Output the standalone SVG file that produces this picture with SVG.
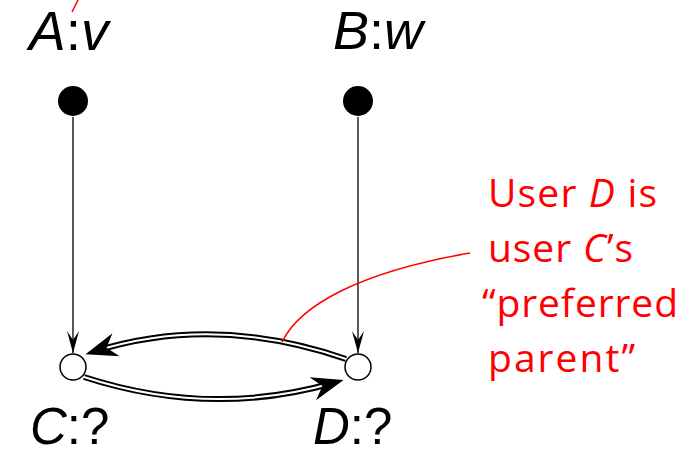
<svg xmlns="http://www.w3.org/2000/svg" width="689" height="455" viewBox="0 0 689 455">
  <style>
    .lbl { font-family: "Liberation Sans", Arial, sans-serif; fill: #000; }
    .it { font-style: italic; }
    .note { font-family: "Open Sans", "Liberation Sans", sans-serif; font-size: 39px; fill: #ff0000; }
    .src { fill: #000; }
    .dst { fill: #fff; stroke: #000; stroke-width: 1.5; }
    .thin { fill: none; stroke: #000; stroke-width: 1.3; marker-end: url(#dart); }
    .outer { fill: none; stroke: #000; stroke-width: 6; }
    .inner { fill: none; stroke: #fff; stroke-width: 2; marker-end: url(#bigdart); }
    .callout { fill: none; stroke: #ff0000; stroke-width: 1.5; }
  </style>
  <defs>
    <marker id="dart" markerUnits="userSpaceOnUse" markerWidth="24" markerHeight="14" viewBox="0 -7 24 14" refX="22" refY="0" orient="auto">
      <path d="M22 0 L0 -6 L9 0 L0 6 Z" fill="#000"/>
    </marker>
    <marker id="bigdart" markerUnits="userSpaceOnUse" markerWidth="34" markerHeight="26" viewBox="0 -13 34 26" refX="21" refY="0" orient="auto">
      <path d="M32 0 L0 -12 L10 0 L0 12 Z" fill="#000"/>
    </marker>
  </defs>

  <!-- connectors -->
  <g id="connectors">
    <path class="thin" d="M73 117 L73 353"/>
    <path class="thin" d="M358 117 L358 353"/>
    <!-- D back to C (upper) -->
    <path class="outer" d="M346 359 Q 215 314 96 351"/>
    <path class="inner" d="M346 359 Q 215 314 96 351"/>
    <!-- C to D (lower) -->
    <path class="outer" d="M84 377 Q 210 418 333 383"/>
    <path class="inner" d="M84 377 Q 210 418 333 383"/>
  </g>

  <!-- nodes -->
  <g id="nodeA">
    <circle class="src" cx="73" cy="101" r="15"/>
    <text class="lbl" x="29" y="50" font-size="55"><tspan class="it">A</tspan>:<tspan class="it">v</tspan></text>
  </g>
  <g id="nodeB">
    <circle class="src" cx="358" cy="101" r="15"/>
    <text class="lbl" x="333" y="49" font-size="54"><tspan class="it">B</tspan>:<tspan class="it">w</tspan></text>
  </g>
  <g id="nodeC">
    <circle class="dst" cx="73" cy="367" r="13"/>
    <text class="lbl" x="30" y="444" font-size="51"><tspan class="it">C</tspan>:?</text>
  </g>
  <g id="nodeD">
    <circle class="dst" cx="358" cy="367" r="13"/>
    <text class="lbl" x="313" y="444" font-size="51"><tspan class="it">D</tspan>:?</text>
  </g>

  <!-- annotation -->
  <g id="note">
    <path class="callout" d="M470 253 C 360 272 300 305 282 342"/>
    <path class="callout" d="M78 0 L72 12"/>
    <text class="note" x="488" y="207" textLength="169" lengthAdjust="spacing">User <tspan class="it">D</tspan> is</text>
    <text class="note" x="488" y="262" textLength="145" lengthAdjust="spacing">user <tspan class="it">C</tspan>’s</text>
    <text class="note" x="482" y="317" textLength="196" lengthAdjust="spacing">“preferred</text>
    <text class="note" x="488" y="372" textLength="147" lengthAdjust="spacing">parent”</text>
  </g>
</svg>
